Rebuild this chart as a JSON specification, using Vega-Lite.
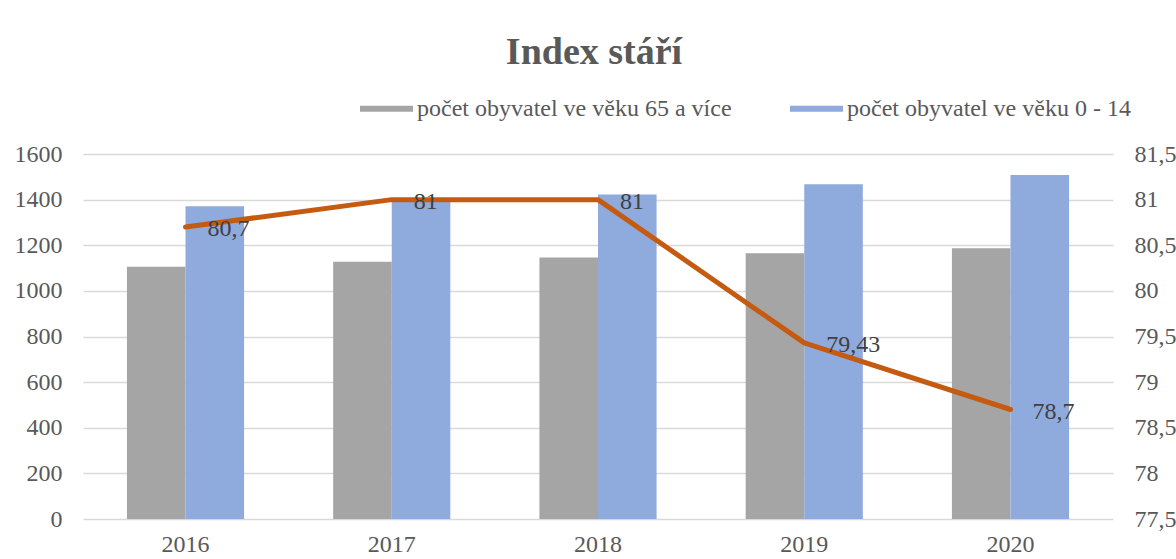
{
  "$schema": "https://vega.github.io/schema/vega-lite/v6.json",
  "width": 1030,
  "height": 365,
  "autosize": {"type": "none"},
  "padding": {"left": 83, "top": 154, "right": 63, "bottom": 40},
  "background": "white",
  "title": {
    "text": "Index stáří",
    "font": "Liberation Serif",
    "fontSize": 38,
    "fontWeight": "bold",
    "color": "#595959",
    "anchor": "middle",
    "dx": -4,
    "baseline": "alphabetic",
    "offset": -20
  },
  "config": {
    "view": {"stroke": null},
    "locale": {"number": {"decimal": ",", "thousands": " ", "grouping": [3], "currency": ["", " Kč"]}},
    "axis": {
      "labelFont": "Liberation Serif",
      "labelFontSize": 24,
      "labelColor": "#595959",
      "ticks": false,
      "domain": false,
      "title": null
    }
  },
  "data": {
    "values": [
      {"rok": "2016", "počet obyvatel ve věku 65 a více": 1106, "počet obyvatel ve věku 0 - 14": 1371, "index": 80.7},
      {"rok": "2017", "počet obyvatel ve věku 65 a více": 1128, "počet obyvatel ve věku 0 - 14": 1390, "index": 81},
      {"rok": "2018", "počet obyvatel ve věku 65 a více": 1146, "počet obyvatel ve věku 0 - 14": 1423, "index": 81},
      {"rok": "2019", "počet obyvatel ve věku 65 a více": 1165, "počet obyvatel ve věku 0 - 14": 1467, "index": 79.43},
      {"rok": "2020", "počet obyvatel ve věku 65 a více": 1187, "počet obyvatel ve věku 0 - 14": 1508, "index": 78.7}
    ]
  },
  "encoding": {
    "x": {
      "field": "rok",
      "type": "nominal",
      "scale": {"paddingInner": 0.432, "paddingOuter": 0.213},
      "axis": {"labelAngle": 0, "labelPadding": 13, "grid": false}
    }
  },
  "layer": [
    {
      "transform": [
        {"fold": ["počet obyvatel ve věku 65 a více", "počet obyvatel ve věku 0 - 14"], "as": ["skupina", "hodnota"]}
      ],
      "mark": {"type": "bar"},
      "encoding": {
        "xOffset": {
          "field": "skupina",
          "type": "nominal",
          "sort": ["počet obyvatel ve věku 65 a více", "počet obyvatel ve věku 0 - 14"],
          "scale": {"paddingInner": 0, "paddingOuter": 0}
        },
        "y": {
          "field": "hodnota",
          "type": "quantitative",
          "scale": {"domain": [0, 1600], "nice": false},
          "axis": {
            "values": [0, 200, 400, 600, 800, 1000, 1200, 1400, 1600],
            "format": "d",
            "grid": true,
            "gridColor": "#D9D9D9",
            "gridWidth": 1.5,
            "labelPadding": 21
          }
        },
        "color": {
          "field": "skupina",
          "type": "nominal",
          "scale": {
            "domain": ["počet obyvatel ve věku 65 a více", "počet obyvatel ve věku 0 - 14"],
            "range": ["#A5A5A5", "#8FAADC"]
          },
          "legend": {
            "title": null,
            "orient": "none",
            "direction": "horizontal",
            "legendX": 277,
            "legendY": -72,
            "padding": 0,
            "symbolType": "M-1,-0.113H1V0.113H-1Z",
            "symbolSize": 2809,
            "symbolStrokeWidth": 0,
            "symbolOpacity": 1,
            "labelFont": "Liberation Serif",
            "labelFontSize": 24,
            "labelColor": "#595959",
            "labelOffset": 4,
            "columnPadding": 58,
            "labelLimit": 0
          }
        }
      }
    },
    {
      "mark": {"type": "line", "color": "#C55A11", "strokeWidth": 5, "strokeCap": "round", "strokeJoin": "round"},
      "encoding": {
        "y": {
          "field": "index",
          "type": "quantitative",
          "scale": {"domain": [77.5, 81.5], "nice": false, "zero": false},
          "axis": {
            "orient": "right",
            "values": [77.5, 78, 78.5, 79, 79.5, 80, 80.5, 81, 81.5],
            "format": ".1~f",
            "grid": false,
            "labelPadding": 21
          }
        }
      }
    },
    {
      "mark": {
        "type": "text",
        "align": "left",
        "baseline": "middle",
        "dx": 22,
        "dy": 2,
        "font": "Liberation Serif",
        "fontSize": 24,
        "color": "#404040"
      },
      "encoding": {
        "y": {"field": "index", "type": "quantitative", "scale": {"domain": [77.5, 81.5], "nice": false, "zero": false}, "axis": null},
        "text": {"field": "index", "type": "quantitative", "format": ".2~f"}
      }
    }
  ],
  "resolve": {"scale": {"y": "independent"}}
}
